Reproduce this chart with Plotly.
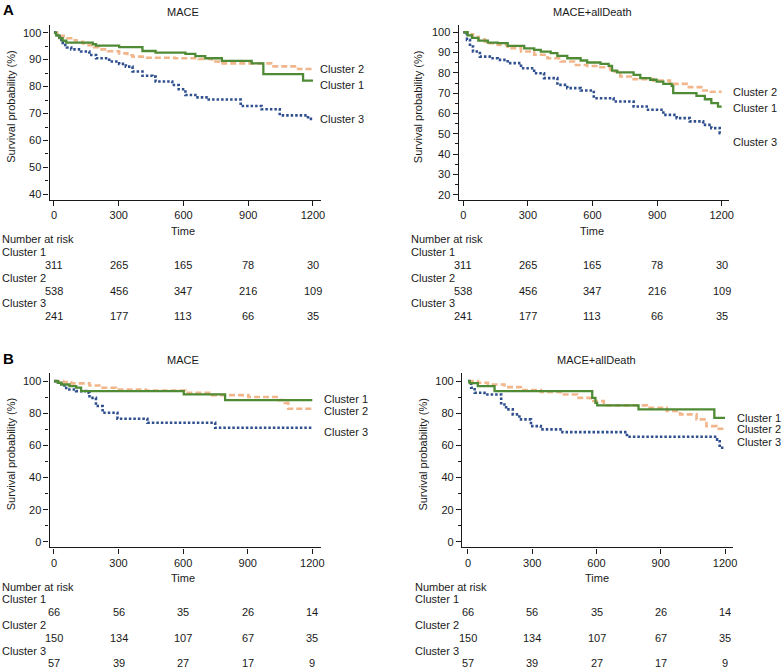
import plotly.graph_objects as go

# --- Daten ---
risk_times = [0, 300, 600, 900, 1200]
cluster_names = ["Cluster 1", "Cluster 2", "Cluster 3"]

# A: MACE
a_mace_t1 = [0, 10, 25, 40, 57, 180, 195, 302, 410, 471, 609, 655, 701, 778, 916, 970, 1154, 1200]
a_mace_s1 = [100, 99.0, 98.0, 97.0, 96.3, 95.7, 95.2, 94.6, 93.2, 92.6, 92.1, 91.3, 90.5, 89.5, 88.6, 84.6, 82.2, 82.2]
a_mace_t2 = [0, 15, 30, 45, 57, 80, 105, 134, 160, 185, 210, 250, 302, 340, 364, 420, 560, 670, 732, 763, 1006, 1131, 1200]
a_mace_s2 = [100, 99.4, 98.8, 98.3, 97.9, 97.2, 96.6, 96.0, 95.3, 94.6, 93.8, 93.1, 92.3, 91.6, 91.1, 90.7, 90.5, 90.2, 89.3, 88.6, 87.5, 86.5, 86.5]
a_mace_t3 = [0, 15, 26, 41, 60, 80, 126, 164, 195, 256, 302, 333, 364, 410, 456, 471, 548, 578, 609, 655, 717, 865, 962, 1046, 1177, 1200]
a_mace_s3 = [100, 98.5, 97.3, 95.4, 94.5, 93.8, 93.0, 91.7, 90.5, 89.3, 88.4, 87.4, 85.6, 84.0, 83.7, 81.9, 80.6, 79.0, 76.9, 76.0, 75.2, 72.8, 71.6, 69.3, 68.0, 68.0]

# A: MACE+allDeath
a_all_t1 = [0, 20, 40, 70, 114, 160, 206, 283, 329, 360, 406, 437, 483, 545, 575, 637, 675, 691, 714, 791, 822, 868, 898, 929, 968, 975, 1083, 1122, 1152, 1183, 1200]
a_all_s1 = [100, 98.5, 97.2, 95.9, 94.9, 94.6, 93.3, 92.1, 91.3, 90.5, 89.7, 88.4, 87.2, 86.1, 85.1, 84.4, 83.4, 81.1, 80.2, 79.0, 77.4, 76.6, 75.7, 74.6, 73.6, 70.0, 68.7, 67.0, 65.1, 63.4, 63.4]
a_all_t2 = [0, 20, 45, 70, 100, 114, 160, 206, 268, 329, 391, 452, 514, 575, 637, 683, 729, 791, 883, 960, 1037, 1114, 1150, 1200]
a_all_s2 = [100, 99.0, 97.8, 96.5, 95.3, 94.6, 93.8, 92.1, 90.5, 88.9, 87.2, 85.6, 83.9, 83.4, 82.8, 80.7, 78.2, 76.9, 76.2, 74.6, 73.0, 71.3, 70.7, 70.7]
a_all_t3 = [0, 17, 31, 45, 77, 123, 160, 206, 268, 329, 375, 437, 483, 545, 606, 698, 791, 852, 929, 991, 1052, 1114, 1152, 1191, 1200]
a_all_s3 = [100, 96.2, 93.0, 90.5, 88.0, 87.2, 86.4, 84.8, 82.3, 79.8, 77.4, 74.1, 72.5, 71.3, 67.5, 65.9, 63.4, 61.8, 59.3, 57.7, 56.1, 54.4, 52.8, 50.3, 50.3]

# B: MACE
b_mace_t1 = [0, 18, 34, 72, 103, 126, 603, 795, 1200]
b_mace_s1 = [100, 99.0, 97.9, 96.9, 95.9, 93.8, 91.7, 88.2, 88.2]
b_mace_t2 = [0, 42, 80, 165, 226, 288, 426, 611, 734, 903, 1042, 1072, 1088, 1200]
b_mace_s2 = [100, 99.4, 98.6, 97.3, 95.9, 94.8, 94.2, 92.8, 91.3, 90.1, 88.2, 86.5, 82.8, 82.8]
b_mace_t3 = [0, 11, 34, 57, 103, 149, 165, 195, 226, 295, 434, 749, 1200]
b_mace_s3 = [100, 99.0, 97.3, 94.8, 93.8, 92.8, 89.6, 84.5, 80.3, 76.6, 74.1, 71.0, 71.0]

# B: MACE+allDeath
b_all_t1 = [0, 8, 46, 124, 580, 595, 603, 796, 1150, 1200]
b_all_s1 = [100, 98.8, 96.9, 93.8, 89.6, 86.5, 84.9, 82.4, 77.2, 77.2]
b_all_t2 = [0, 46, 93, 170, 247, 340, 433, 510, 572, 634, 835, 928, 990, 1067, 1113, 1160, 1200]
b_all_s2 = [100, 99.0, 97.9, 96.3, 94.4, 93.2, 91.7, 89.6, 87.6, 84.9, 83.4, 81.4, 79.3, 76.2, 72.0, 70.4, 70.4]
b_all_t3 = [0, 15, 31, 77, 155, 178, 209, 240, 294, 340, 441, 742, 1163, 1175, 1200]
b_all_s3 = [100, 95.9, 92.8, 91.7, 85.5, 82.4, 79.3, 76.2, 72.0, 70.0, 68.3, 65.4, 63.6, 58.6, 58.6]

# Number at risk
risk_a1 = [311, 265, 165, 78, 30]
risk_a2 = [538, 456, 347, 216, 109]
risk_a3 = [241, 177, 113, 66, 35]
risk_b1 = [66, 56, 35, 26, 14]
risk_b2 = [150, 134, 107, 67, 35]
risk_b3 = [57, 39, 27, 17, 9]

# --- Layout ---
W, H = 782, 671
FONT = "Arial, Liberation Sans, sans-serif"
TXT = "#1a1a1a"
COLORS = ["#4f8a35", "#f2b68c", "#2f4f8f"]
DASHES = ["solid", "6px,3px", "2.5px,2px"]
WIDTHS = [2.3, 2.6, 2.6]


def px(x):
    return x / W


def py(y):
    return 1 - y / H


# Pixelpositionen der Panels im Bild
panels = [
    dict(title="MACE", xd=(50, 323), yd=(25, 200), x0=54.3, x1=315.0, ya=(100, 32.7), yb=(40, 194.7),
         ytick=10, ymin=40, data=[(a_mace_t1, a_mace_s1), (a_mace_t2, a_mace_s2), (a_mace_t3, a_mace_s3)],
         labels=[(80.6, "Cluster 1"), (86.6, "Cluster 2"), (68.0, "Cluster 3")], lx=320.5,
         risk=[risk_a1, risk_a2, risk_a3], rx=0, rows=(231, 239, 252, 265, 278, 291, 303.5, 316.5),
         ytitle=(11, 107), titley=12),
    dict(title="MACE+allDeath", xd=(461.7, 734), yd=(25, 200), x0=466.3, x1=726.3, ya=(100, 32.3), yb=(20, 195.0),
         ytick=10, ymin=20, data=[(a_all_t1, a_all_s1), (a_all_t2, a_all_s2), (a_all_t3, a_all_s3)],
         labels=[(62.8, "Cluster 1"), (70.6, "Cluster 2"), (46.1, "Cluster 3")], lx=736,
         risk=[risk_a1, risk_a2, risk_a3], rx=411.5, rows=(231, 239, 252, 265, 278, 291, 303.5, 316.5),
         ytitle=(421, 107), titley=12),
    dict(title="MACE", xd=(50, 323), yd=(373.3, 548.3), x0=54.3, x1=314.3, ya=(100, 381.7), yb=(0, 542.7),
         ytick=20, ymin=0, data=[(b_mace_t1, b_mace_s1), (b_mace_t2, b_mace_s2), (b_mace_t3, b_mace_s3)],
         labels=[(89.1, "Cluster 1"), (81.6, "Cluster 2"), (68.3, "Cluster 3")], lx=324,
         risk=[risk_b1, risk_b2, risk_b3], rx=0, rows=(579, 587.5, 600, 612.5, 625.5, 639, 651.5, 664),
         ytitle=(11, 455), titley=360.5),
    dict(title="MACE+allDeath", xd=(465, 737.7), yd=(373.3, 548.3), x0=471.0, x1=729.7, ya=(100, 381.7), yb=(0, 542.7),
         ytick=20, ymin=0, data=[(b_all_t1, b_all_s1), (b_all_t2, b_all_s2), (b_all_t3, b_all_s3)],
         labels=[(77.3, "Cluster 1"), (70.0, "Cluster 2"), (62.4, "Cluster 3")], lx=740,
         risk=[risk_b1, risk_b2, risk_b3], rx=416, rows=(579, 587.5, 600, 612.5, 625.5, 639, 651.5, 664),
         ytitle=(426, 455), titley=360.5),
]

fig = go.Figure()
annotations = []
layout_axes = {}


def label(text, x, y, xref="paper", yref="paper", xanchor="center", **kw):
    annotations.append(dict(text=text, x=x, y=y, xref=xref, yref=yref, xanchor=xanchor,
                            yanchor="middle", showarrow=False,
                            font=kw.pop("font", dict(family=FONT, size=11, color=TXT)), **kw))


for i, p in enumerate(panels, start=1):
    xs = "" if i == 1 else str(i)
    xref, yref = "x" + xs, "y" + xs

    # Achsenbereiche aus Pixelpositionen
    kx = (p["x1"] - p["x0"]) / 1200
    xr = [(p["xd"][0] - p["x0"]) / kx, (p["xd"][1] - p["x0"]) / kx]
    (va, pa), (vb, pb) = p["ya"], p["yb"]
    ky = (pb - pa) / (va - vb)
    yr = [va - (p["yd"][1] - pa) / ky, va + (pa - p["yd"][0]) / ky]

    # Zeichenreihenfolge: Cluster 2, Cluster 3, Cluster 1
    for j in (1, 2, 0):
        t, s = p["data"][j]
        fig.add_trace(go.Scatter(
            x=t, y=s, mode="lines", line_shape="hv",
            line=dict(color=COLORS[j], width=WIDTHS[j], dash=DASHES[j]),
            xaxis=xref, yaxis=yref, showlegend=False, hoverinfo="skip"
        ))

    common = dict(showgrid=False, zeroline=False, showline=True, linecolor=TXT, linewidth=1.4,
                  ticks="outside", ticklen=5, tickwidth=1.2, tickcolor=TXT,
                  tickfont=dict(family=FONT, size=11, color=TXT))
    layout_axes["xaxis" + xs] = dict(
        common, domain=[px(p["xd"][0]), px(p["xd"][1])], range=xr,
        tickvals=risk_times, anchor=yref)
    layout_axes["yaxis" + xs] = dict(
        common, domain=[py(p["yd"][1]), py(p["yd"][0])], range=yr,
        tickmode="linear", tick0=p["ymin"], dtick=p["ytick"], anchor=xref,
        minor=dict(ticks="outside", ticklen=3, tickwidth=1, tickcolor=TXT, dtick=p["ytick"] / 2))

    label(p["title"], 600, py(p["titley"]), xref=xref)
    label("Survival probability (%)", px(p["ytitle"][0]), py(p["ytitle"][1]), textangle=-90)
    for val, name in p["labels"]:
        label(name, px(p["lx"]), val, yref=yref, xanchor="left")

    # Risikotabelle
    rows = p["rows"]
    label("Time", 600, py(rows[0]), xref=xref)
    label("Number at risk", px(p["rx"]), py(rows[1]), xanchor="left")
    for k, name in enumerate(cluster_names):
        label(name, px(p["rx"]), py(rows[2 + 2 * k]), xanchor="left")
        for tt, n in zip(risk_times, p["risk"][k]):
            label(str(n), tt, py(rows[3 + 2 * k]), xref=xref)

# Panel-Buchstaben
label("<b>A</b>", px(9), py(10), font=dict(family=FONT, size=15, color="#000"))
label("<b>B</b>", px(9), py(359), font=dict(family=FONT, size=15, color="#000"))

fig.update_layout(
    width=W, height=H,
    margin=dict(l=0, r=0, t=0, b=0),
    paper_bgcolor="white", plot_bgcolor="white",
    annotations=annotations,
    **layout_axes
)

fig.write_html("out.html", config={"displayModeBar": False},
               post_script="document.body.style.margin='0px';")
